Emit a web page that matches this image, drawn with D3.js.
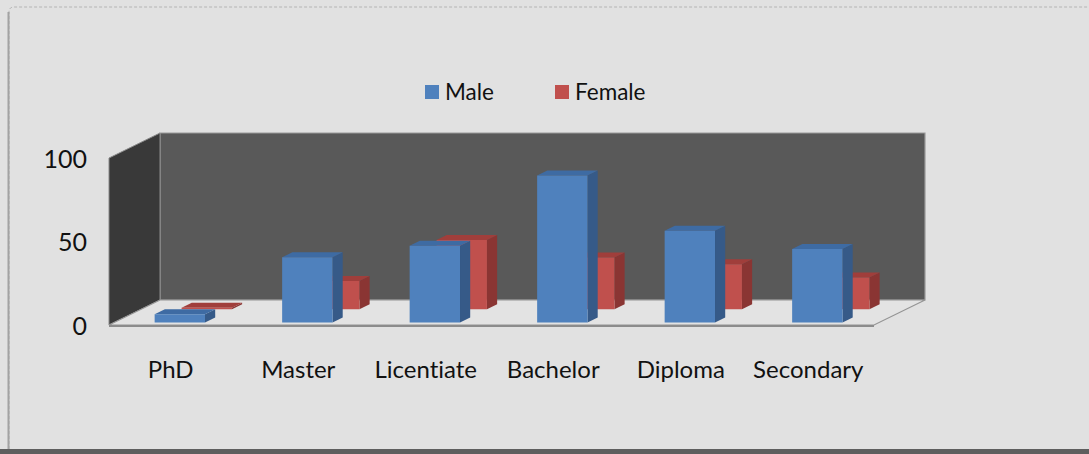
<!DOCTYPE html>
<html>
<head>
<meta charset="utf-8">
<script src="https://cdn.jsdelivr.net/npm/d3@7"></script>
<style>
  html, body { margin: 0; padding: 0; background: #e1e1e1; }
  svg { display: block; }
  text { font-family: Lato, "Liberation Sans", sans-serif; fill: #111; font-variant-ligatures: none; font-feature-settings: "liga" 0; }
</style>
</head>
<body>
<svg id="chart" width="1089" height="454"></svg>
<script>
// Education level by gender
const categories = ["PhD", "Master", "Licentiate", "Bachelor", "Diploma", "Secondary"];
const maleValues = [5, 39, 46, 88, 55, 44];
const femaleValues = [1, 17, 41.5, 31, 27, 19];
const yTicks = [0, 50, 100];
const seriesNames = ["Male", "Female"];

const W = 1089, H = 454;
const svg = d3.select("#chart");

// 3D geometry: depth runs up and to the right
const DEPTH = 25;          // total floor depth (vertical px)
const KX = 51 / 25;        // horizontal shift per unit of depth
const proj = (x, y, z) => [x + z * KX, y - z];

const x = d3.scaleBand().domain(categories).range([109, 874]).padding(0);
const y = d3.scaleLinear().domain([0, 100]).range([325, 158]);

// frame
svg.append("rect").attr("x", 0).attr("y", 0).attr("width", W).attr("height", H).attr("fill", "#e1e1e1");
svg.append("path")
  .attr("d", `M9,${H - 5} L9,12 Q9,7 14,7 L${W},7`)
  .attr("fill", "none").attr("stroke", "#b4b4b4").attr("stroke-width", 1)
  .attr("stroke-dasharray", "3,2");
svg.append("line").attr("x1", 8.5).attr("x2", 8.5).attr("y1", 12).attr("y2", H - 5)
  .attr("stroke", "#a2a2a2").attr("stroke-width", 2);
svg.append("rect").attr("x", 0).attr("y", 449).attr("width", W).attr("height", 5).attr("fill", "#5e5e5e");

const poly = pts => "M" + pts.map(p => p.join(",")).join("L") + "Z";
const x0 = x.range()[0], x1 = x.range()[1];
const yBase = y(0), yTop = y(100);

// walls and floor
const g = svg.append("g");
g.append("path")
  .attr("d", poly([proj(x0, yBase, DEPTH), proj(x0, yTop, DEPTH), proj(x1, yTop, DEPTH), proj(x1, yBase, DEPTH)]))
  .attr("fill", "#595959").attr("stroke", "#9a9a9a").attr("stroke-width", 1.2);
g.append("path")
  .attr("d", poly([[x0, yBase], [x0, yTop], proj(x0, yTop, DEPTH), proj(x0, yBase, DEPTH)]))
  .attr("fill", "#393939").attr("stroke", "#8a8a8a").attr("stroke-width", 1);
g.append("path")
  .attr("d", poly([[x0, yBase], [x1, yBase], proj(x1, yBase, DEPTH), proj(x0, yBase, DEPTH)]))
  .attr("fill", "#e3e3e3").attr("stroke", "#949494").attr("stroke-width", 1.2);
g.append("line").attr("x1", x0).attr("x2", x1).attr("y1", yBase + 1).attr("y2", yBase + 1)
  .attr("stroke", "#8c8c8c").attr("stroke-width", 2);

// bars: each series occupies its own depth row
const series = [
  { name: "Female", values: femaleValues, z0: 15.7, front: "#c0504d", side: "#8a3533", top: "#a03e3b" },
  { name: "Male",   values: maleValues,   z0: 2.5,  front: "#4f81bd", side: "#365a88", top: "#3e6ba3" }
];
const barDepth = 5;
const barOff = 0.318, barFrac = 0.395;

series.forEach(s => {
  const bars = g.append("g").selectAll("g").data(categories).join("g");
  bars.each(function (c, i) {
    const v = s.values[i];
    const bx0 = x(c) + x.bandwidth() * barOff;
    const bx1 = bx0 + x.bandwidth() * barFrac;
    const za = s.z0, zb = s.z0 + barDepth;
    const yv = y(v);
    const sel = d3.select(this);
    sel.append("path").attr("d", poly([proj(bx1, yBase, za), proj(bx1, yv, za), proj(bx1, yv, zb), proj(bx1, yBase, zb)]))
      .attr("fill", s.side);
    sel.append("path").attr("d", poly([proj(bx0, yv, za), proj(bx1, yv, za), proj(bx1, yv, zb), proj(bx0, yv, zb)]))
      .attr("fill", s.top);
    sel.append("path").attr("d", poly([proj(bx0, yBase, za), proj(bx0, yv, za), proj(bx1, yv, za), proj(bx1, yBase, za)]))
      .attr("fill", s.front);
  });
});

// value axis labels
svg.append("g").selectAll("text").data(yTicks).join("text")
  .attr("x", 87).attr("y", d => y(d) + 9.5)
  .attr("text-anchor", "end").attr("font-size", 25)
  .text(d => d);

// category labels
svg.append("g").selectAll("text").data(categories).join("text")
  .attr("x", d => x(d) + x.bandwidth() / 2 - 2).attr("y", 378)
  .attr("text-anchor", "middle").attr("font-size", 24)
  .text(d => d);

// legend
const legendX = [425, 555];
const lg = svg.append("g");
seriesNames.forEach((n, i) => {
  lg.append("rect").attr("x", legendX[i]).attr("y", 85).attr("width", 14).attr("height", 14)
    .attr("fill", i === 0 ? "#4f81bd" : "#c0504d");
  lg.append("text").attr("x", legendX[i] + 20).attr("y", 100).attr("font-size", 22.5).text(n);
});
</script>
</body>
</html>
